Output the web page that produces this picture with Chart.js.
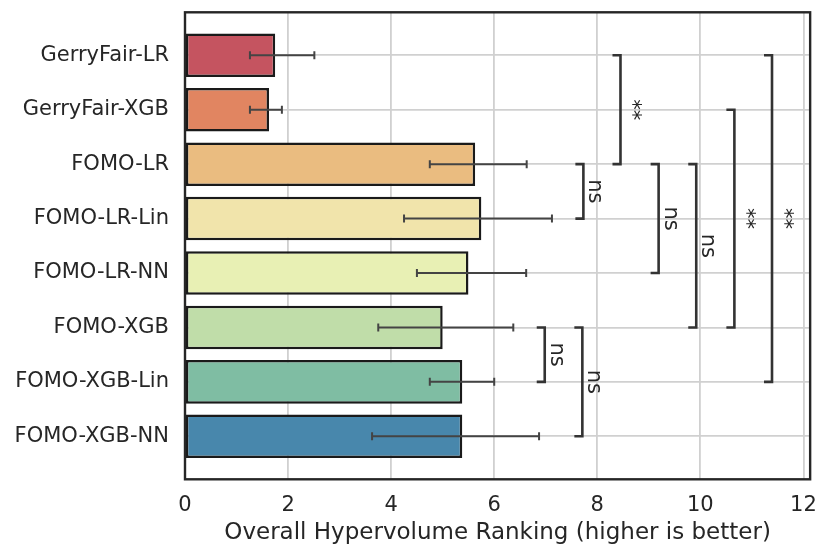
<!DOCTYPE html>
<html>
<head>
<meta charset="utf-8">
<script src="https://cdn.jsdelivr.net/npm/chart.js@4/dist/chart.umd.min.js"></script>
<style>
  html, body { margin: 0; padding: 0; background: #ffffff; }
  #wrap { width: 831px; height: 559px; position: relative; }
</style>
</head>
<body>
<div id="wrap"><canvas id="c"></canvas></div>
<script>
// ---- data ----
const categories = ['GerryFair-LR', 'GerryFair-XGB', 'FOMO-LR', 'FOMO-LR-Lin', 'FOMO-LR-NN', 'FOMO-XGB', 'FOMO-XGB-Lin', 'FOMO-XGB-NN'];
const rankMeans = [1.75, 1.63, 5.63, 5.75, 5.50, 5.00, 5.38, 5.38];
const errLow = [1.26, 1.26, 4.75, 4.25, 4.50, 3.75, 4.75, 3.63];
const errHigh = [2.51, 1.88, 6.63, 7.12, 6.62, 6.37, 6.00, 6.87];
const barColors = ['#c55460', '#e18561', '#eabc80', '#f1e4ab', '#e8f0b4', '#c0dda9', '#7fbda3', '#4887ac'];
const xTicks = [0, 2, 4, 6, 8, 10, 12];
const xTitle = 'Overall Hypervolume Ranking (higher is better)';
// significance brackets
const bracketFrom = [0, 2, 2, 2, 1, 0, 5, 5];
const bracketTo = [2, 3, 4, 5, 5, 6, 6, 7];
const bracketX = [8.45, 7.73, 9.19, 9.92, 10.66, 11.39, 6.98, 7.71];
const bracketLabels = ['**', 'ns', 'ns', 'ns', '**', '**', 'ns', 'ns'];

const FONT = "'DejaVu Sans', 'Liberation Sans', sans-serif";
const TEXT = '#262626';

const overlay = {
  id: 'overlay',
  afterDatasetsDraw(chart) {
    const ctx = chart.ctx;
    const xs = chart.scales.x, ys = chart.scales.y;
    ctx.save();
    // error bars
    ctx.strokeStyle = '#444444';
    ctx.lineWidth = 2;
    ctx.lineCap = 'butt';
    for (let i = 0; i < categories.length; i++) {
      const y = ys.getPixelForValue(i);
      const x1 = xs.getPixelForValue(errLow[i]);
      const x2 = xs.getPixelForValue(errHigh[i]);
      ctx.beginPath();
      ctx.moveTo(x1, y); ctx.lineTo(x2, y);
      ctx.moveTo(x1, y - 4); ctx.lineTo(x1, y + 4);
      ctx.moveTo(x2, y - 4); ctx.lineTo(x2, y + 4);
      ctx.stroke();
    }
    // brackets
    ctx.strokeStyle = '#333333';
    ctx.lineWidth = 2.6;
    ctx.lineJoin = 'miter';
    ctx.fillStyle = TEXT;
    ctx.font = "21px " + FONT;
    ctx.textAlign = 'center';
    ctx.textBaseline = 'alphabetic';
    for (let k = 0; k < bracketX.length; k++) {
      const x = xs.getPixelForValue(bracketX[k]);
      const y1 = ys.getPixelForValue(bracketFrom[k]);
      const y2 = ys.getPixelForValue(bracketTo[k]);
      ctx.beginPath();
      ctx.moveTo(x - 8, y1); ctx.lineTo(x, y1); ctx.lineTo(x, y2); ctx.lineTo(x - 8, y2);
      ctx.stroke();
      ctx.save();
      ctx.translate(x + 6, (y1 + y2) / 2);
      ctx.rotate(Math.PI / 2);
      ctx.fillText(bracketLabels[k], 0, 0);
      ctx.restore();
    }
    ctx.restore();
  },
  afterDraw(chart) {
    const ctx = chart.ctx, a = chart.chartArea;
    ctx.save();
    ctx.strokeStyle = '#262626';
    ctx.lineWidth = 2.4;
    ctx.strokeRect(a.left, a.top, a.right - a.left, a.bottom - a.top);
    ctx.restore();
  }
};

new Chart(document.getElementById('c'), {
  type: 'bar',
  data: {
    datasets: [{
      data: rankMeans.map((v, i) => ({ x: v, y: i })),
      backgroundColor: barColors,
      borderColor: '#1a1a1a',
      borderWidth: 2.5,
      borderSkipped: false,
      categoryPercentage: 1.0,
      barPercentage: 0.8
    }]
  },
  options: {
    indexAxis: 'y',
    responsive: true,
    maintainAspectRatio: false,
    animation: false,
    layout: { padding: { left: 0, right: 18.3, top: 12.3, bottom: 0 } },
    plugins: { legend: { display: false }, tooltip: { enabled: false } },
    scales: {
      x: {
        type: 'linear',
        min: 0,
        max: 12.13,
        afterBuildTicks: (s) => { s.ticks = xTicks.map(v => ({ value: v })); },
        afterFit: (s) => { s.height = 79.7; },
        grid: { color: '#d0d0d0', lineWidth: 1.8, drawTicks: false },
        border: { display: false },
        ticks: { color: TEXT, font: { family: FONT, size: 21 }, padding: 14, maxRotation: 0 },
        title: { display: true, text: xTitle, color: TEXT, font: { family: FONT, size: 23 }, padding: { top: 4, bottom: 12.5 } }
      },
      y: {
        type: 'linear',
        offset: false,
        min: -0.79,
        max: 7.79,
        reverse: true,
        afterBuildTicks: (s) => { s.ticks = categories.map((c, i) => ({ value: i })); },
        afterFit: (s) => { s.width = 185; s.paddingTop = 0; s.paddingBottom = 0; },
        grid: { color: '#d0d0d0', lineWidth: 1.8, drawTicks: false, offset: false },
        border: { display: false },
        ticks: { color: TEXT, font: { family: FONT, size: 21 }, padding: 16, callback: (v) => categories[v] }
      }
    }
  },
  plugins: [overlay]
});
</script>
</body>
</html>
